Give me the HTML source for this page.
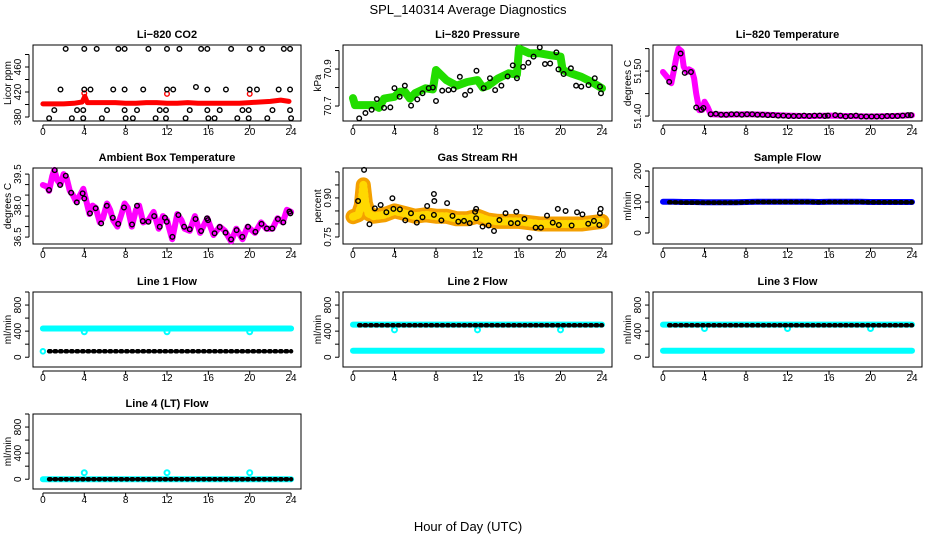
<!DOCTYPE html>
<html><head><meta charset="utf-8"><title>SPL_140314 Average Diagnostics</title>
<style>
html,body{margin:0;padding:0;background:#fff;}
svg{display:block;font-family:"Liberation Sans",Arial,sans-serif;}
.t{font-weight:bold;font-size:11px;text-anchor:middle;}
.tk{font-size:10px;text-anchor:middle;}
</style></head>
<body>
<svg id="chart" width="936" height="540" viewBox="0 0 936 540">
<rect width="936" height="540" fill="#fff"/>
<text x="468" y="14" font-size="13" text-anchor="middle">SPL_140314  Average Diagnostics</text>
<text x="468" y="531" font-size="13" text-anchor="middle">Hour of Day (UTC)</text>
</svg>
<script>
// ---------- data ----------
const xTicks = [0,4,8,12,16,20,24];
const hourly = [0,1,2,3,4,5,6,7,8,9,10,11,12,13,14,15,16,17,18,19,20,21,22,23,24];

const co2RedH = [0,1,2,3,3.8,4.05,4.3,5,6,7,8,9,10,11,12,13,14,15,16,17,18,19,20,21,22,23,23.8];
const co2RedV = [401,401,401,402,404,413,403,403,403,403,402,402,403,403,402,402,403,402,402,402,402,402,403,404,405,407,405];
const co2RedPtH = [4,12,20];
const co2RedPtV = [418,417,417];
const co2BlackH = [2.2,4.0,5.2,7.3,7.9,10.2,12.0,13.2,15.3,15.9,18.2,20.0,21.2,23.3,23.9,
 1.7,4.0,4.6,6.8,7.9,9.7,12.0,12.6,14.8,15.9,17.7,20.0,20.7,22.8,23.9,
 1.1,3.3,3.9,6.2,7.9,9.1,11.3,11.9,14.2,15.9,17.1,19.3,19.9,22.2,23.9,
 0.6,2.8,3.9,5.7,8.0,8.7,10.9,11.9,13.8,16.0,16.6,18.8,19.9,21.7,24.0];
const co2BlackV = [489,489,489,489,489,489,489,489,489,489,489,489,489,489,489,
 424,424,424,424,424,424,424,424,428,424,424,424,424,424,424,
 391,391,391,391,391,391,391,391,391,391,391,391,391,391,391,
 378,378,378,378,378,378,378,378,378,378,378,378,378,378,378];

const presGreenH = [0,0.2,1,2,2.5,3,4,4.5,5,5.5,6,7,7.7,8,9,10,11,12,12.5,13,14,15,15.8,16,17,18,19,20,20.2,21,22,23,24];
const presGreenV = [70.743,70.705,70.705,70.705,70.69,70.74,70.75,70.777,70.777,70.74,70.77,70.796,70.79,70.895,70.84,70.81,70.83,70.84,70.8,70.81,70.85,70.877,70.87,71.01,70.985,70.985,70.975,70.967,70.895,70.877,70.858,70.83,70.796];
const presBlackH = [0.6,1.2,1.8,2.3,3.0,3.6,4.0,4.5,5.0,5.6,6.2,6.7,7.3,7.7,8.0,8.6,9.2,9.7,10.3,10.8,11.3,11.9,12.6,13.2,13.7,14.3,14.9,15.4,15.8,16.4,16.9,17.4,18.0,18.5,19.0,19.6,19.8,20.3,21.0,21.5,22.0,22.7,23.3,23.8,23.9];
const presBlackV = [70.633,70.662,70.68,70.738,70.69,70.693,70.797,70.75,70.81,70.702,70.736,70.769,70.797,70.8,70.727,70.783,70.786,70.79,70.858,70.76,70.783,70.891,70.797,70.85,70.786,70.81,70.86,70.92,70.85,70.912,70.934,70.967,71.017,70.927,70.93,70.99,70.898,70.873,70.904,70.81,70.805,70.813,70.85,70.805,70.769];

const tempMagH = [0,0.5,0.8,1,1.3,1.5,1.8,2,2.3,2.5,2.8,3.0,3.2,3.5,3.8,4.0,4.3,4.6,6,8,10,12,14,16,18,20,22,24];
const tempMagV = [51.498,51.484,51.473,51.495,51.532,51.55,51.544,51.51,51.498,51.504,51.50,51.484,51.45,51.413,51.414,51.432,51.42,51.404,51.403,51.404,51.403,51.401,51.400,51.401,51.400,51.399,51.400,51.402];
const tempBlackH = [0.6,1.1,1.7,2.1,2.7,3.2,3.7,3.9,4.6,5.1,5.6,6.1,6.6,7.1,7.6,8.1,8.6,9.1,9.6,10.1,10.6,11.1,11.6,12.1,12.6,13.1,13.6,14.1,14.6,15.1,15.6,15.9,16.6,17.1,17.6,18.1,18.6,19.1,19.6,20.1,20.6,21.1,21.6,22.1,22.6,23.1,23.6,23.9];
const tempBlackV = [51.476,51.506,51.539,51.496,51.498,51.419,51.414,51.418,51.404,51.405,51.403,51.403,51.404,51.404,51.403,51.404,51.404,51.403,51.403,51.402,51.402,51.401,51.401,51.400,51.400,51.400,51.401,51.400,51.401,51.401,51.400,51.401,51.402,51.401,51.399,51.400,51.401,51.399,51.399,51.399,51.399,51.399,51.400,51.400,51.400,51.401,51.402,51.402];

const ambMagH = [0,0.4,0.6,0.9,1.1,1.4,1.7,2.0,2.3,2.6,2.9,3.2,3.6,3.9,4.2,4.5,4.8,5.1,5.5,5.8,6.2,6.5,6.8,7.2,7.6,7.9,8.2,8.6,9.0,9.3,9.7,10.2,10.7,11.2,11.6,12.0,12.5,13.0,13.4,13.7,14.2,14.7,15.2,15.9,16.5,17.1,17.6,18.2,18.7,19.3,19.8,20.5,21.1,21.6,22.2,22.7,23.2,23.6,24.0];
const ambMagV = [38.98,38.9,38.7,39.4,39.7,39.2,39.0,39.5,39.3,38.7,38.5,38.2,38.5,38.8,38.2,37.6,38.0,37.9,37.2,37.4,38.1,37.8,37.3,37.0,37.6,38.1,37.9,37.0,37.8,38.0,37.2,37.3,37.7,36.9,37.5,37.3,36.4,37.6,37.3,36.9,36.8,37.5,36.7,37.4,36.6,37.0,36.8,36.3,36.9,36.4,37.0,36.7,37.2,36.9,36.9,37.4,37.2,37.8,37.7];
const ambBlackH = [0.59,1.14,1.66,2.21,2.73,3.28,3.84,4.0,4.55,5.1,5.63,6.18,6.76,7.28,7.84,8.62,9.1,9.66,10.2,10.76,11.3,11.8,11.97,12.52,13.1,13.66,14.2,14.76,15.3,15.87,15.97,16.6,17.1,17.66,18.2,18.73,19.28,19.84,20.55,21.14,21.66,22.18,22.73,23.25,23.84,23.93];
const ambBlackV = [38.74,39.69,38.98,39.42,38.61,38.15,38.58,38.34,37.63,37.87,37.15,37.99,37.42,37.13,37.91,37.10,37.99,37.26,37.23,37.5,36.99,37.42,37.23,36.51,37.55,36.99,36.87,37.36,36.79,37.39,37.31,36.68,36.98,36.71,36.39,36.83,36.51,36.99,36.75,37.13,36.91,36.91,37.36,37.2,37.71,37.63];

const rhBandH = [0,0.5,0.8,1.0,1.2,1.5,2,3,4,5,6,7,8,9,10,11,12,13,14,15,16,17,18,19,20,21,22,23,24];
const rhBandV = [0.828,0.835,0.87,0.95,0.88,0.84,0.83,0.835,0.85,0.84,0.83,0.835,0.83,0.83,0.82,0.82,0.83,0.815,0.81,0.81,0.81,0.805,0.80,0.80,0.80,0.80,0.80,0.805,0.81];
const rhBlackH = [0.49,1.07,1.59,2.11,2.67,3.22,3.80,3.90,4.52,5.04,5.59,6.15,6.70,7.15,7.80,7.84,7.80,8.52,9.07,9.59,10.15,10.7,11.25,11.77,11.87,11.87,12.49,13.07,13.59,14.11,14.7,15.22,15.74,15.87,16.52,17.0,17.6,18.11,18.7,19.25,19.74,19.84,20.49,21.07,21.59,22.11,22.67,23.22,23.74,23.87,23.8];
const rhBlackV = [0.888,1.008,0.799,0.860,0.873,0.845,0.899,0.858,0.856,0.814,0.841,0.805,0.826,0.869,0.915,0.888,0.835,0.814,0.880,0.831,0.809,0.812,0.803,0.847,0.858,0.822,0.790,0.794,0.773,0.815,0.841,0.803,0.847,0.803,0.819,0.747,0.786,0.786,0.832,0.805,0.858,0.796,0.85,0.794,0.845,0.837,0.801,0.812,0.796,0.858,0.841];

const sampleBlue = [101,101,100,100,99,99,99,99,100,101,101,101,101,101,101,100,101,101,101,101,100,100,100,100,100];
const sampleBlack = [99,99,98,98,98,98,98,98,99,100,100,100,100,100,100,99,100,100,100,100,99,99,99,99,99];

const line1Cyan = [440,440,440,440,440,440,440,440,440,440,440,440,440,440,440,440,440,440,440,440,440,440,440,440,440];
const line1Black = [90,90,90,90,90,90,90,90,90,90,90,90,90,90,90,90,90,90,90,90,90,90,90,90,90];
const line1DipV = [390,390,390];
const line2CyanHi = [500,500,500,500,500,500,500,500,500,500,500,500,500,500,500,500,500,500,500,500,500,500,500,500,500];
const line2Black = [490,490,490,490,490,490,490,490,490,490,490,490,490,490,490,490,490,490,490,490,490,490,490,490,490];
const line2CyanLo = [100,100,100,100,100,100,100,100,100,100,100,100,100,100,100,100,100,100,100,100,100,100,100,100,100];
const line2DipV = [420,420,420];
const line3CyanHi = [500,500,500,500,500,500,500,500,500,500,500,500,500,500,500,500,500,500,500,500,500,500,500,500,500];
const line3Black = [490,490,490,490,490,490,490,490,490,490,490,490,490,490,490,490,490,490,490,490,490,490,490,490,490];
const line3CyanLo = [100,100,100,100,100,100,100,100,100,100,100,100,100,100,100,100,100,100,100,100,100,100,100,100,100];
const line3DipV = [440,440,440];
const line4Cyan = [0,0,0,0,0,0,0,0,0,0,0,0,0,0,0,0,0,0,0,0,0,0,0,0,0];
const line4Black = [0,0,0,0,0,0,0,0,0,0,0,0,0,0,0,0,0,0,0,0,0,0,0,0,0];
const line4SpikeV = [100,100,100];
const spikeH = [4,12,20];

// ---------- drawing ----------
const NS = "http://www.w3.org/2000/svg";
const svg = document.getElementById("chart");
const cols = [[33,301],[343,612],[653,922]];
const rows = [[45,121],[168,244],[292,367],[414,489]];
const XL = [-0.96,24.96];

function mk(tag, attrs, parent){
  const e = document.createElementNS(NS, tag);
  for (const k in attrs) e.setAttribute(k, attrs[k]);
  (parent||svg).appendChild(e);
  return e;
}
function makePanel(id, c, r, ylim, ticks, labels, ylab, title){
  const [x0,x1] = cols[c], [y0,y1] = rows[r];
  const g = mk("g", {});
  
  
  const sx = h => x0 + (h - XL[0]) / (XL[1]-XL[0]) * (x1-x0);
  const sy = v => y1 - (v - ylim[0]) / (ylim[1]-ylim[0]) * (y1-y0);
  const t = mk("text", {x:(x0+x1)/2, y:y0-7, class:"t"}, g);
  t.textContent = title;
  
  
  const yl = mk("text", {x:0, y:0, "font-size":10, "text-anchor":"middle", transform:`translate(${x0-22},${(y0+y1)/2}) rotate(-90)`}, g);
  yl.textContent = ylab;
  
  
  mk("line", {x1:x0-4, x2:x0-4, y1:sy(ticks[0]), y2:sy(ticks[ticks.length-1]), stroke:"#000", "stroke-width":1}, g);
  ticks.forEach(v => {
    mk("line", {x1:x0-8, x2:x0-4, y1:sy(v), y2:sy(v), stroke:"#000"}, g);
  });
  labels.forEach(v => {
    const lt = mk("text", {class:"tk", transform:`translate(${x0-12},${sy(parseFloat(v))}) rotate(-90)`}, g);
    lt.textContent = v;
    
    
  });
  mk("line", {x1:sx(0), x2:sx(24), y1:y1+4, y2:y1+4, stroke:"#000"}, g);
  xTicks.forEach(h => {
    mk("line", {x1:sx(h), x2:sx(h), y1:y1+4, y2:y1+8, stroke:"#000"}, g);
    const xt = mk("text", {x:sx(h), y:y1+14, class:"tk"}, g);
    xt.textContent = h;
    
    
  });
  mk("rect", {x:x0, y:y0, width:x1-x0, height:y1-y0, fill:"none", stroke:"#000", "stroke-width":1}, g);
  const clip = mk("g", {}, g);
  return {g:clip, sx, sy};
}
function line(p, H, V, color, w, name, dash){
  const pts = H.map((h,i) => p.sx(h).toFixed(1) + "," + p.sy(V[i]).toFixed(1)).join(" ");
  const a = {points:pts, fill:"none", stroke:color, "stroke-width":w, "stroke-linejoin":"round", "stroke-linecap":"round"};
  if (dash) { a["stroke-dasharray"] = dash; }
  const e = mk("polyline", a, p.g);
  
  
}
function pts(p, H, V, color, name, r, sw){
  H.forEach((h,i) => {
    const e = mk("circle", {cx:p.sx(h), cy:p.sy(V[i]), r:r||2.3, fill:"none", stroke:color, "stroke-width":sw||1.4}, p.g);
    
    
  });
}
const flowTicks = [0,200,400,600,800,1000], flowLabels = ["0","400","800"];
const hoursFrom = hourly.map(h => h === 0 ? 0.6 : h);
const chainDash = "1.5 4";

let p = makePanel("co2",0,0,[373.6,495.2],[380,400,420,440,460,480],["380","420","460"],"Licor ppm","Li\u2212820 CO2");
line(p, co2RedH, co2RedV, "#ff0000", 5, "co2-red-series");
pts(p, co2RedPtH, co2RedPtV, "#ff0000", "co2-red-point");
pts(p, co2BlackH, co2BlackV, "#000", "co2-black-point");

p = makePanel("pressure",1,0,[70.619,71.03],[70.7,70.8,70.9,71.0],["70.7","70.9"],"kPa","Li\u2212820 Pressure");
line(p, presGreenH, presGreenV, "#22dd00", 8, "pressure-green-series");
pts(p, presBlackH, presBlackV, "#000", "pressure-black-point");

p = makePanel("temperature",2,0,[51.389,51.558],[51.40,51.45,51.50,51.55],["51.40","51.50"],"degrees C","Li\u2212820 Temperature");
line(p, tempMagH, tempMagV, "#ff00ff", 6, "temperature-magenta-series");
pts(p, tempBlackH, tempBlackV, "#000", "temperature-black-point");

p = makePanel("ambient",0,1,[36.17,39.79],[36.5,37,37.5,38,38.5,39,39.5],["36.5","38.0","39.5"],"degrees C","Ambient Box Temperature");
line(p, ambMagH, ambMagV, "#ff00ff", 6, "ambient-magenta-series");
pts(p, ambBlackH, ambBlackV, "#000", "ambient-black-point");

p = makePanel("rh",1,1,[0.723,1.015],[0.75,0.8,0.85,0.9,0.95,1.0],["0.75","0.90"],"percent","Gas Stream RH");
line(p, rhBandH, rhBandV, "#f4a000", 15, "rh-orange-band");
line(p, rhBandH, rhBandV, "#ffd800", 8, "rh-yellow-core", "2 3");
pts(p, rhBlackH, rhBlackV, "#000", "rh-black-point");

p = makePanel("sample-flow",2,1,[-35.5,209.7],[0,50,100,150,200],["0","100","200"],"ml/min","Sample Flow");
line(p, hourly, sampleBlue, "#0000ff", 6, "sample-flow-blue-series");
line(p, hoursFrom, sampleBlack, "#000", 4.5, "sample-flow-black-series", chainDash);

p = makePanel("line1",0,2,[-150,1000],flowTicks,flowLabels,"ml/min","Line 1 Flow");
line(p, hourly, line1Cyan, "#00ffff", 6, "line1-cyan-series");
pts(p, [0], [line1Black[0]], "#00ffff", "line1-cyan-start", 2.3, 2);
pts(p, spikeH, line1DipV, "#00ffff", "line1-cyan-dip", 2.5, 2);
line(p, hoursFrom, line1Black, "#000", 4.5, "line1-black-series", chainDash);

p = makePanel("line2",1,2,[-150,1000],flowTicks,flowLabels,"ml/min","Line 2 Flow");
line(p, hourly, line2CyanHi, "#00ffff", 6, "line2-cyan-high-series");
line(p, hourly, line2CyanLo, "#00ffff", 6, "line2-cyan-low-series");
pts(p, spikeH, line2DipV, "#00ffff", "line2-cyan-dip", 2.5, 2);
line(p, hoursFrom, line2Black, "#000", 4.5, "line2-black-series", chainDash);

p = makePanel("line3",2,2,[-150,1000],flowTicks,flowLabels,"ml/min","Line 3 Flow");
line(p, hourly, line3CyanHi, "#00ffff", 6, "line3-cyan-high-series");
line(p, hourly, line3CyanLo, "#00ffff", 6, "line3-cyan-low-series");
pts(p, spikeH, line3DipV, "#00ffff", "line3-cyan-dip", 2.5, 2);
line(p, hoursFrom, line3Black, "#000", 4.5, "line3-black-series", chainDash);

p = makePanel("line4",0,3,[-150,1000],flowTicks,flowLabels,"ml/min","Line 4 (LT) Flow");
line(p, hourly, line4Cyan, "#00ffff", 6, "line4-cyan-series");
pts(p, spikeH, line4SpikeV, "#00ffff", "line4-cyan-spike", 2.5, 2);
line(p, hoursFrom, line4Black, "#000", 4.5, "line4-black-series", chainDash);
</script>
</body></html>
